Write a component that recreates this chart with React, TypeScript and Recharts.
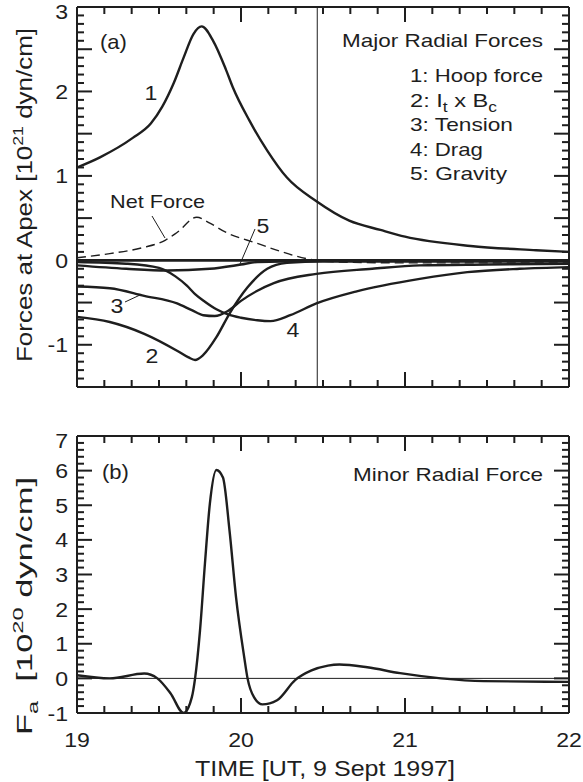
import React from "react";
import { LineChart, Line, XAxis, YAxis, ReferenceLine } from "recharts";

const INK = "#1e1e1e";
const FONT = '"Liberation Sans", Arial, Helvetica, sans-serif';

// panel (a): major radial forces at apex, 10^21 dyn/cm, time in UT hours
const HOOP_T = [19.0, 19.14, 19.34, 19.45, 19.52, 19.59, 19.65, 19.71, 19.76, 19.83, 19.91, 19.95, 20.05, 20.16, 20.28, 20.46, 20.66, 20.85, 21.0, 21.4, 21.8, 22.0];
const HOOP_F = [1.1, 1.22, 1.45, 1.62, 1.82, 2.1, 2.4, 2.68, 2.77, 2.6, 2.25, 2.05, 1.66, 1.3, 0.98, 0.7, 0.47, 0.36, 0.28, 0.17, 0.12, 0.1];

const IXB_T = [19.0, 19.2, 19.41, 19.61, 19.68, 19.72, 19.77, 19.85, 19.93, 20.04, 20.16, 20.28, 20.5, 21.0, 22.0];
const IXB_F = [-0.67, -0.73, -0.87, -1.07, -1.15, -1.18, -1.12, -0.91, -0.63, -0.32, -0.1, -0.03, -0.01, -0.01, -0.01];

const TEN_T = [19.0, 19.2, 19.41, 19.61, 19.7, 19.77, 19.84, 19.92, 20.0, 20.1, 20.2, 20.46, 20.8, 21.09, 21.5, 22.0];
const TEN_F = [-0.31, -0.33, -0.42, -0.51, -0.59, -0.65, -0.66, -0.6, -0.48, -0.36, -0.27, -0.16, -0.1, -0.06, -0.05, -0.04];

const DRAG_T = [19.0, 19.3, 19.5, 19.6, 19.67, 19.72, 19.78, 19.85, 19.92, 20.0, 20.1, 20.18, 20.3, 20.46, 20.7, 21.09, 21.38, 21.7, 22.0];
const DRAG_F = [-0.02, -0.04, -0.09, -0.19, -0.3, -0.4, -0.49, -0.58, -0.64, -0.68, -0.71, -0.72, -0.65, -0.51, -0.37, -0.22, -0.14, -0.1, -0.08];

const GRAV_T = [19.0, 19.3, 19.55, 19.81, 20.0, 20.1, 20.4, 21.0, 22.0];
const GRAV_F = [-0.06, -0.1, -0.12, -0.1, -0.05, -0.02, -0.01, -0.01, -0.01];

const NET_T = [19.0, 19.2, 19.4, 19.54, 19.61, 19.73, 19.81, 19.91, 20.1, 20.25, 20.4, 20.6, 21.0, 21.5, 22.0];
const NET_F = [0.03, 0.08, 0.15, 0.24, 0.33, 0.51, 0.44, 0.33, 0.2, 0.1, 0.02, -0.02, -0.03, -0.03, -0.03];

// panel (b): minor radial force, 10^20 dyn/cm
const FA_T = [19.0, 19.2, 19.41, 19.49, 19.57, 19.65, 19.7, 19.72, 19.75, 19.78, 19.81, 19.85, 19.89, 19.93, 19.97, 20.02, 20.04, 20.08, 20.13, 20.22, 20.33, 20.43, 20.53, 20.6, 20.77, 20.97, 21.22, 21.48, 22.0];
const FA_F = [0.09, 0.0, 0.14, 0.0, -0.43, -1.0, -0.55, 0.0, 1.38, 3.31, 5.04, 6.02, 5.8, 4.27, 2.33, 0.6, 0.0, -0.55, -0.75, -0.63, -0.05, 0.23, 0.37, 0.4, 0.32, 0.15, 0.0, -0.08, -0.1];

const ERUPT_TIME = 20.465;

// ticks: 10 min steps on time, fine steps on force
const X_DOMAIN = [19, 22];
const Y_DOMAIN_A = [-1.5, 3];
const Y_DOMAIN_B = [-1, 7];
const X_TICKS = [19, 19 + 1 / 6, 19 + 2 / 6, 19.5, 19 + 4 / 6, 19 + 5 / 6, 20, 20 + 1 / 6, 20 + 2 / 6, 20.5, 20 + 4 / 6, 20 + 5 / 6, 21, 21 + 1 / 6, 21 + 2 / 6, 21.5, 21 + 4 / 6, 21 + 5 / 6, 22];
const Y_TICKS_A = [-1.5, -1.4, -1.3, -1.2, -1.1, -1, -0.9, -0.8, -0.7, -0.6, -0.5, -0.4, -0.3, -0.2, -0.1, 0, 0.1, 0.2, 0.3, 0.4, 0.5, 0.6, 0.7, 0.8, 0.9, 1, 1.1, 1.2, 1.3, 1.4, 1.5, 1.6, 1.7, 1.8, 1.9, 2, 2.1, 2.2, 2.3, 2.4, 2.5, 2.6, 2.7, 2.8, 2.9, 3];
const Y_TICKS_B = [-1, -0.8, -0.6, -0.4, -0.2, 0, 0.2, 0.4, 0.6, 0.8, 1, 1.2, 1.4, 1.6, 1.8, 2, 2.2, 2.4, 2.6, 2.8, 3, 3.2, 3.4, 3.6, 3.8, 4, 4.2, 4.4, 4.6, 4.8, 5, 5.2, 5.4, 5.6, 5.8, 6, 6.2, 6.4, 6.6, 6.8, 7];

// plot rectangles in page pixels (set by the chart margins below)
const BOX_A = { left: 77, right: 569, top: 7, bottom: 387 };
const BOX_B = { left: 77, right: 569, top: 436, bottom: 713 };

const pairs = (ts: number[], vs: number[]) => ts.map((t, i) => ({ t, v: vs[i] }));

const near = (v: number, step: number) => Math.abs(v / step - Math.round(v / step)) < 1e-6;

function Txt({ x, y, anchor = "start", size = 21, w, children }: any) {
  return (
    <text
      transform={`translate(${x},${y}) scale(${w ? 1 : 1.1},1)`}
      textAnchor={anchor}
      fontSize={size}
      fontFamily={FONT}
      fill={INK}
      textLength={w}
      lengthAdjust={w ? "spacingAndGlyphs" : undefined}
    >
      {children}
    </text>
  );
}

function xLabel(p: any) {
  const v = p.payload.value;
  if (!near(v, 1)) return <g />;
  return (
    <Txt x={p.x} y={p.y + 34} anchor="middle">
      {String(Math.round(v))}
    </Txt>
  );
}

function yLabel(top: number) {
  return (p: any) => {
    const v = p.payload.value;
    if (!near(v, 1)) return <g />;
    const base = Math.abs(v - top) < 1e-6 ? p.y + 12 : p.y + 7.5;
    return (
      <Txt x={p.x - 9} y={base} anchor="end">
        {String(Math.round(v))}
      </Txt>
    );
  };
}

// inward tick marks on all four sides of a panel, drawn as small filled bars
function TickBars({ box, yDomain, yTicks, longStep }: any) {
  const [y0, y1] = yDomain;
  const [x0, x1] = X_DOMAIN;
  const px = (t: number) => box.left + ((t - x0) / (x1 - x0)) * (box.right - box.left);
  const py = (v: number) => box.bottom - ((v - y0) / (y1 - y0)) * (box.bottom - box.top);
  const bars: any[] = [];
  X_TICKS.forEach((t, i) => {
    const len = near(t, 1) ? 15 : 7;
    const x = px(t) - 1;
    bars.push(<rect key={`xb${i}`} x={x} y={box.bottom - len} width={2} height={len} fill={INK} />);
    bars.push(<rect key={`xt${i}`} x={x} y={box.top} width={2} height={len} fill={INK} />);
  });
  yTicks.forEach((v: number, i: number) => {
    const len = near(v, longStep) ? 15 : 7;
    const y = py(v) - 1;
    bars.push(<rect key={`yl${i}`} x={box.left} y={y} width={len} height={2} fill={INK} />);
    bars.push(<rect key={`yr${i}`} x={box.right - len} y={y} width={len} height={2} fill={INK} />);
  });
  return <g>{bars}</g>;
}

const AX = { stroke: INK, strokeWidth: 2 };
const axisBase = { type: "number" as const, interval: 0 as const, tickSize: 0, tickMargin: 0, tickLine: false, axisLine: AX, allowDataOverflow: true };

// four axes, each 1px thick so recharts still draws them; margins are reduced by 1 to compensate
function frame(yDomain: number[], yTicks: number[], xLabels: boolean) {
  return [
    <XAxis key="xb" xAxisId="b" dataKey="t" domain={X_DOMAIN} ticks={X_TICKS} height={1} {...axisBase} tick={xLabels ? xLabel : false} />,
    <XAxis key="xt" xAxisId="t" orientation="top" dataKey="t" domain={X_DOMAIN} ticks={X_TICKS} height={1} {...axisBase} tick={false} />,
    <YAxis key="yl" yAxisId="l" domain={yDomain} ticks={yTicks} width={1} {...axisBase} tick={yLabel(yDomain[1])} />,
    <YAxis key="yr" yAxisId="r" orientation="right" domain={yDomain} ticks={yTicks} width={1} {...axisBase} tick={false} />,
  ];
}

const lineProps = { xAxisId: "b", yAxisId: "l", dataKey: "v", type: "monotone" as const, stroke: INK, dot: false, isAnimationActive: false };

export default function App() {
  return (
    <div style={{ position: "absolute", left: 0, top: 0, width: 583, height: 782, background: "#fff" }}>
      <div style={{ position: "absolute", left: 0, top: 0 }}>
        <LineChart width={583} height={400} margin={{ top: 6, right: 13, bottom: 12, left: 76 }}>
          {frame(Y_DOMAIN_A, Y_TICKS_A, false)}
          <ReferenceLine xAxisId="b" yAxisId="l" x={ERUPT_TIME} stroke={INK} strokeWidth={1} />
          <ReferenceLine xAxisId="b" yAxisId="l" y={0} stroke={INK} strokeWidth={2.6} />
          <Line {...lineProps} data={pairs(NET_T, NET_F)} strokeWidth={1.4} strokeDasharray="9 5" />
          <Line {...lineProps} data={pairs(HOOP_T, HOOP_F)} strokeWidth={2.4} />
          <Line {...lineProps} data={pairs(IXB_T, IXB_F)} strokeWidth={2.4} />
          <Line {...lineProps} data={pairs(TEN_T, TEN_F)} strokeWidth={2.4} />
          <Line {...lineProps} data={pairs(DRAG_T, DRAG_F)} strokeWidth={2.4} />
          <Line {...lineProps} data={pairs(GRAV_T, GRAV_F)} strokeWidth={2.4} />
        </LineChart>
      </div>
      <div style={{ position: "absolute", left: 0, top: 420 }}>
        <LineChart width={583} height={362} margin={{ top: 15, right: 13, bottom: 68, left: 76 }}>
          {frame(Y_DOMAIN_B, Y_TICKS_B, true)}
          <ReferenceLine xAxisId="b" yAxisId="l" y={0} stroke={INK} strokeWidth={1} />
          <Line {...lineProps} data={pairs(FA_T, FA_F)} strokeWidth={2.4} />
        </LineChart>
      </div>
      <svg width={583} height={782} style={{ position: "absolute", left: 0, top: 0, pointerEvents: "none" }}>
        <TickBars box={BOX_A} yDomain={Y_DOMAIN_A} yTicks={Y_TICKS_A} longStep={0.5} />
        <TickBars box={BOX_B} yDomain={Y_DOMAIN_B} yTicks={Y_TICKS_B} longStep={1} />

        <g transform="translate(32,362) rotate(-90)">
          <Txt x={0} y={0} size={22} w={334}>
            <tspan>Forces at Apex [10</tspan>
            <tspan dy={-9} fontSize={15}>21</tspan>
            <tspan dy={9}>{"\u00a0dyn/cm]"}</tspan>
          </Txt>
        </g>
        <g transform="translate(32,735) rotate(-90)">
          <Txt x={0} y={0} size={22} w={258}>
            <tspan>F</tspan>
            <tspan dy={6} fontSize={15}>a</tspan>
            <tspan dy={-6}>{"\u00a0\u00a0[10"}</tspan>
            <tspan dy={-9} fontSize={15}>20</tspan>
            <tspan dy={9}>{"\u00a0dyn/cm]"}</tspan>
          </Txt>
        </g>
        <Txt x={195} y={776} size={22} w={260}>TIME [UT, 9 Sept 1997]</Txt>

        <Txt x={100} y={49} size={20}>(a)</Txt>
        <Txt x={102} y={479} size={20}>(b)</Txt>

        <Txt x={151} y={100} anchor="middle">1</Txt>
        <Txt x={152} y={363} anchor="middle">2</Txt>
        <Txt x={117} y={313} anchor="middle">3</Txt>
        <Txt x={293} y={337} anchor="middle">4</Txt>
        <Txt x={263} y={233} anchor="middle">5</Txt>
        <Txt x={110} y={208} size={19} w={95}>Net Force</Txt>
        <line x1={152} y1={216} x2={165} y2={238} stroke={INK} strokeWidth={1} />
        <line x1={255} y1={229} x2={240} y2={264} stroke={INK} strokeWidth={1} />
        <line x1={125} y1={302} x2={140} y2={295} stroke={INK} strokeWidth={1} />

        <Txt x={342} y={47} size={19} w={201}>Major Radial Forces</Txt>
        <Txt x={410} y={82} size={19} w={133}>1: Hoop force</Txt>
        <Txt x={410} y={106.5} size={19} w={87}>
          <tspan>2: I</tspan>
          <tspan dy={5} fontSize={14}>t</tspan>
          <tspan dy={-5}>{"\u00a0x B"}</tspan>
          <tspan dy={5} fontSize={14}>c</tspan>
        </Txt>
        <Txt x={410} y={131} size={19} w={103}>3: Tension</Txt>
        <Txt x={410} y={155.5} size={19} w={73}>4: Drag</Txt>
        <Txt x={410} y={180} size={19} w={97}>5: Gravity</Txt>

        <Txt x={353} y={481} size={19} w={190}>Minor Radial Force</Txt>
      </svg>
    </div>
  );
}
